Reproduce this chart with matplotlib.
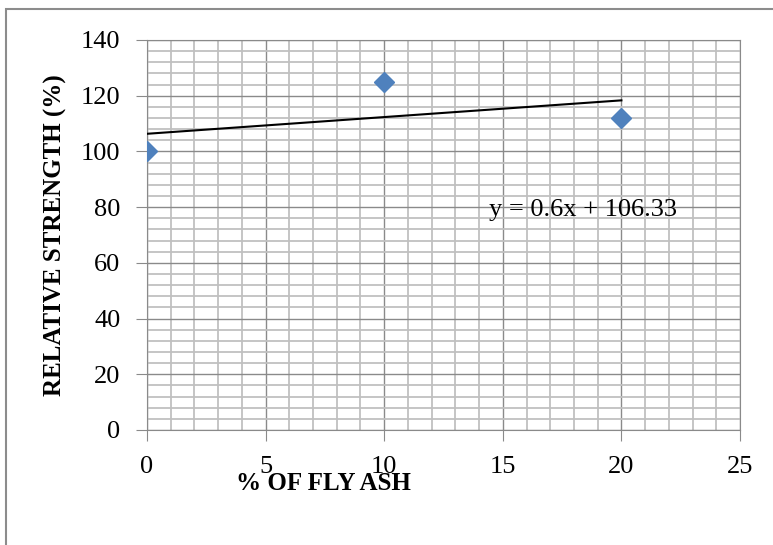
import numpy as np
import matplotlib
matplotlib.use('Agg')
import matplotlib.pyplot as plt
from matplotlib.ticker import MultipleLocator
from matplotlib.patches import Rectangle

# 데이터
fly_ash = [0, 10, 20]
strength = [100, 125, 112]
x_ticks = [0, 5, 10, 15, 20, 25]
y_ticks = [0, 20, 40, 60, 80, 100, 120, 140]

plt.rcParams['font.family'] = ['Liberation Serif', 'DejaVu Serif']

fig = plt.figure(figsize=(7.73, 5.45), dpi=100)
ax = fig.add_axes([147 / 773, 115 / 545, 593 / 773, 390 / 545])

# 바깥 테두리
fig.patches.append(Rectangle((6 / 773, -0.1), 1.2, (536 / 545) + 0.1,
                             transform=fig.transFigure, fill=False,
                             edgecolor='#8c8c8c', linewidth=1.5))

# 격자
ax.xaxis.set_minor_locator(MultipleLocator(1))
ax.yaxis.set_minor_locator(MultipleLocator(4))
ax.grid(which='minor', color='#c0c0c0', linewidth=1.3)
ax.grid(which='major', color='#8a8a8a', linewidth=1.0)
ax.set_axisbelow(True)

# 추세선
coef = np.polyfit(fly_ash, strength, 1)
xt = np.array([min(fly_ash), max(fly_ash)])
ax.plot(xt, np.polyval(coef, xt), color='black', linewidth=1.5, zorder=3)

# 데이터 점
ax.plot(fly_ash, strength, linestyle='none', marker='D', markersize=10,
        color='#4f81bd', zorder=4)

ax.text(14.4, 79, 'y = %gx + %.2f' % (round(coef[0], 2), coef[1]),
        fontsize=19, va='center', ha='left')

ax.set_xlim(0, 25)
ax.set_ylim(0, 140)
ax.set_xticks(x_ticks)
ax.set_yticks(y_ticks)
ax.tick_params(which='major', length=8, color='#8a8a8a', labelsize=19)
ax.tick_params(axis='x', pad=11)
ax.tick_params(axis='y', pad=11)
ax.tick_params(which='minor', length=0)
for s in ax.spines.values():
    s.set_color('#8a8a8a')

ax.set_xlabel('% OF FLY ASH', fontsize=18, fontweight='bold', va='center')
ax.xaxis.set_label_coords(0.297, -0.136)
ax.set_ylabel('RELATIVE STRENGTH (%)', fontsize=18, fontweight='bold', va='center')
ax.yaxis.set_label_coords(-0.155, 0.5)

plt.savefig('out.png', dpi=100)
